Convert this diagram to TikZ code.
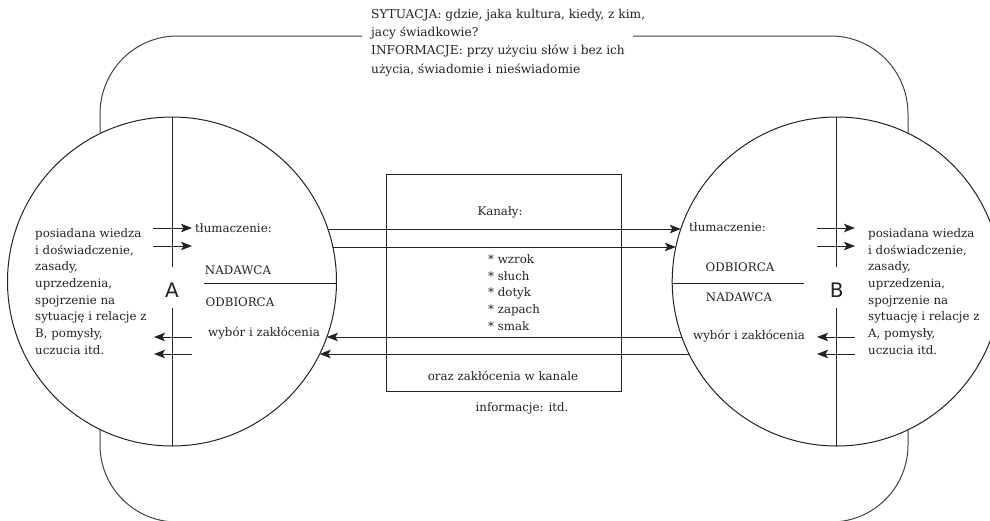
\documentclass[tikz,border=0pt]{standalone}
\usepackage{fontspec}
\setmainfont{DejaVu Serif}
\setsansfont{DejaVu Sans}
\usetikzlibrary{arrows.meta,calc}
\definecolor{ink}{RGB}{35,35,35}
\definecolor{loopc}{RGB}{65,65,65}
\begin{document}
\begin{tikzpicture}[x=1pt,y=-1pt,
  txt/.style={font=\fontsize{11.8}{16.7}\selectfont, text=ink, inner sep=0},
  para/.style={txt, align=left},
  bigc/.style={circle, draw=ink, line width=1pt, fill=white, minimum size=329pt, inner sep=0, outer sep=0},
  arr/.style={-{Stealth[length=11pt,width=8.5pt,inset=2.5pt]}, line width=1pt, draw=ink},
  divline/.style={line width=1pt, draw=ink},
  letter/.style={font=\sffamily\fontsize{20}{20}\selectfont, text=ink, inner sep=0}
]
\useasboundingbox (0,0) rectangle (990,520);
% outer loop
\draw[loopc, line width=1pt] (362,36) -- (177,36)
  arc[start angle=270, end angle=180, x radius=77, y radius=78] -- (100,445)
  arc[start angle=180, end angle=90, x radius=77, y radius=77] -- (831,522)
  arc[start angle=90, end angle=0, x radius=77, y radius=77] -- (908,114)
  arc[start angle=0, end angle=-90, x radius=77, y radius=78] -- (633,36);
\node[para, anchor=west, font=\fontsize{12.2}{18.3}\selectfont] (sit) at (371,42.5)
  {SYTUACJA: gdzie, jaka kultura, kiedy, z kim,\\jacy świadkowie?\\INFORMACJE: przy użyciu słów i bez ich\\użycia, świadomie i nieświadomie};
% circles
\node[bigc] (A) at (172,281.5) {};
\node[bigc] (B) at (836.7,281.5) {};
% boundary points (computed from the circle centres)
\coordinate (Ae1) at ($(A.center)+(155.9,-52.5)$);
\coordinate (Ae2) at ($(A.center)+(160.8,-34.5)$);
\coordinate (Ae3) at ($(A.center)+(154.9,55.5)$);
\coordinate (Ae4) at ($(A.center)+(147.7,72.5)$);
\coordinate (Be1) at ($(B.center)+(-155.9,-52.5)$);
\coordinate (Be2) at ($(B.center)+(-160.8,-34.5)$);
\coordinate (Be3) at ($(B.center)+(-154.9,55.5)$);
\coordinate (Be4) at ($(B.center)+(-147.7,72.5)$);
\coordinate (Aeh) at ($(A.center)+(164.5,1.5)$);
\coordinate (Beh) at ($(B.center)+(-164.5,1.5)$);
% inner dividers A
\node[letter] (la) at (172,290) {A};
\coordinate (a1) at (172,267);
\coordinate (a2) at (172,308);
\coordinate (ah) at (204,283);
\draw[divline] (A.north) -- (a1);
\draw[divline] (a2) -- (A.south);
\draw[divline] (ah) -- (Aeh);
% inner dividers B
\node[letter] (lb) at (836.7,290) {B};
\coordinate (b1) at (836.7,267);
\coordinate (b2) at (836.7,308);
\coordinate (bh) at (804,283);
\draw[divline] (B.north) -- (b1);
\draw[divline] (b2) -- (B.south);
\draw[divline] (Beh) -- (bh);
% texts A
\node[para, anchor=west] (pa) at (35,291.5) {posiadana wiedza\\i doświadczenie,\\zasady,\\uprzedzenia,\\spojrzenie na\\sytuację i relacje z\\B, pomysły,\\uczucia itd.};
\node[txt, anchor=west] (ta) at (195,228) {tłumaczenie:};
\node[txt] (na) at (238,270) {NADAWCA};
\node[txt] (oa) at (240,302) {ODBIORCA};
\node[txt, anchor=west] (wa) at (208,333) {wybór i zakłócenia};
% texts B
\node[para, anchor=west] (pb) at (868,291.5) {posiadana wiedza\\i doświadczenie,\\zasady,\\uprzedzenia,\\spojrzenie na\\sytuację i relacje z\\A, pomysły,\\uczucia itd.};
\node[txt, anchor=west] (tb) at (689,227) {tłumaczenie:};
\node[txt] (ob) at (740,267) {ODBIORCA};
\node[txt] (nb) at (739,297) {NADAWCA};
\node[txt, anchor=west] (wb) at (693,336) {wybór i zakłócenia};
% small arrows A
\coordinate (ar1s) at (153,228); \coordinate (ar1e) at (192,228);
\coordinate (ar2s) at (153,246); \coordinate (ar2e) at (192,246);
\coordinate (al1s) at (192,337); \coordinate (al1e) at (154,337);
\coordinate (al2s) at (192,354); \coordinate (al2e) at (154,354);
\draw[arr] (ar1s) -- (ar1e);
\draw[arr] (ar2s) -- (ar2e);
\draw[arr] (al1s) -- (al1e);
\draw[arr] (al2s) -- (al2e);
% small arrows B
\coordinate (br1s) at (817,228); \coordinate (br1e) at (855,228);
\coordinate (br2s) at (817,246); \coordinate (br2e) at (855,246);
\coordinate (bl1s) at (855,337); \coordinate (bl1e) at (817,337);
\coordinate (bl2s) at (855,354); \coordinate (bl2e) at (817,354);
\draw[arr] (br1s) -- (br1e);
\draw[arr] (br2s) -- (br2e);
\draw[arr] (bl1s) -- (bl1e);
\draw[arr] (bl2s) -- (bl2e);
% channel box
\node[draw=ink, line width=1pt, minimum width=235pt, minimum height=217pt, inner sep=0] (box) at (503.5,282.5) {};
\node[txt] (kan) at (500,212) {Kanały:};
\node[para, anchor=west] (lst) at (488,292.5) {* wzrok\\* słuch\\* dotyk\\* zapach\\* smak};
\node[txt] (zak) at (503,376) {oraz zakłócenia w kanale};
\node[txt] (inf) at (522,408) {informacje: itd.};
% channel arrows
\draw[arr] (Ae1) -- (Be1);
\draw[arr] (Ae2) -- (Be2);
\draw[arr] (Be3) -- (Ae3);
\draw[arr] (Be4) -- (Ae4);
\end{tikzpicture}
\end{document}
